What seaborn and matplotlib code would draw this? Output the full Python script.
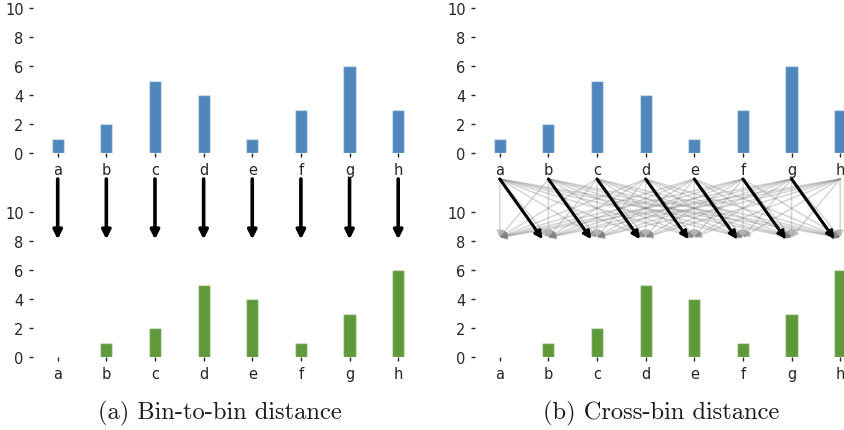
import matplotlib
matplotlib.use("Agg")
import matplotlib.pyplot as plt
import seaborn as sns
import pandas as pd

# Two histograms over the same eight bins
bins = ["a", "b", "c", "d", "e", "f", "g", "h"]
source_counts = [1, 2, 5, 4, 1, 3, 6, 3]
target_counts = [0, 1, 2, 5, 4, 1, 3, 6]
y_ticks = [0, 2, 4, 6, 8, 10]
captions = ["(a) Bin-to-bin distance", "(b) Cross-bin distance"]

blue = "#4f87bd"
green = "#5f993c"

sns.set_theme(style="white")
plt.rcParams.update({
    "font.family": ["DejaVu Sans"],
    "xtick.bottom": True,
    "ytick.left": True,
    "xtick.major.size": 3,
    "ytick.major.size": 3,
    "xtick.major.width": 1,
    "ytick.major.width": 1,
    "xtick.major.pad": 3,
    "ytick.major.pad": 4,
    "xtick.color": "#262626",
    "ytick.color": "#262626",
    "xtick.labelsize": 10.5,
    "ytick.labelsize": 10.5,
})

fig = plt.figure(figsize=(8.45, 4.31), dpi=100)

panel_lefts = [0.0395, 0.5626]
ax_w, ax_h = 0.4605, 0.3364
top_bottom, low_bottom = 0.642, 0.1687


def hist_axes(rect, counts, color):
    ax = fig.add_axes(rect)
    df = pd.DataFrame({"bin": bins, "count": counts})
    sns.barplot(data=df, x="bin", y="count", color=color, width=0.25,
                saturation=1, edgecolor=(1, 1, 1, 0.4), linewidth=1, ax=ax)
    ax.set_xlim(-0.5, len(bins) - 0.5)
    ax.set_ylim(0, 10)
    ax.set_yticks(y_ticks)
    ax.set_xlabel("")
    ax.set_ylabel("")
    sns.despine(ax=ax, left=True, bottom=True)
    ax.patch.set_alpha(0)
    return ax


start_y = -1.77  # just under the bin labels of the upper histogram

for k, left in enumerate(panel_lefts):
    ax_low = hist_axes([left, low_bottom, ax_w, ax_h], target_counts, green)
    ax_top = hist_axes([left, top_bottom, ax_w, ax_h], source_counts, blue)

    if k == 0:
        # each bin is compared only with its counterpart
        for i in range(len(bins)):
            ax_top.annotate("", xy=(i, 8.13), xycoords=ax_low.transData,
                            xytext=(i, start_y), textcoords=ax_top.transData,
                            arrowprops=dict(arrowstyle="-|>", color="black",
                                            lw=2.6, mutation_scale=13,
                                            shrinkA=0, shrinkB=0),
                            annotation_clip=False)
    else:
        # every bin is compared with every other bin
        for i in range(len(bins)):
            for j in range(len(bins)):
                ax_top.annotate("", xy=(j, 8.27), xycoords=ax_low.transData,
                                xytext=(i, start_y), textcoords=ax_top.transData,
                                arrowprops=dict(arrowstyle="-|>", color="gray",
                                                alpha=0.33, lw=1.1,
                                                mutation_scale=10,
                                                shrinkA=0, shrinkB=0),
                                annotation_clip=False)
        for i in range(len(bins) - 1):
            ax_top.annotate("", xy=(i + 1, 7.6), xycoords=ax_low.transData,
                            xytext=(i, start_y), textcoords=ax_top.transData,
                            arrowprops=dict(arrowstyle="-|>", color="black",
                                            lw=2.2, mutation_scale=11,
                                            shrinkA=0, shrinkB=7),
                            annotation_clip=False)

caption_x = [219.5 / 845, 661 / 845]
for x, text in zip(caption_x, captions):
    fig.text(x, 1 - 413 / 431, text, ha="center", va="center",
             fontfamily="cmr10", fontsize=17.6, color="#1a1a1a")

fig.savefig("out.png", dpi=100)
